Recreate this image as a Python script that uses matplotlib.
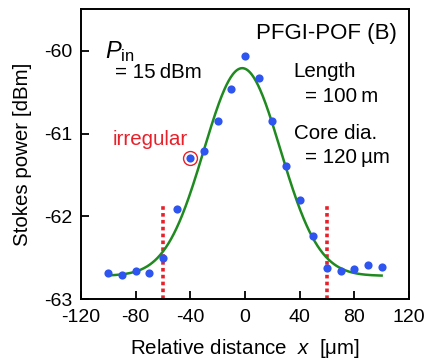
import numpy as np
import matplotlib
matplotlib.use("Agg")
import matplotlib.pyplot as plt

plt.rcParams['font.family'] = ['Liberation Sans', 'DejaVu Sans']
plt.rcParams['mathtext.fontset'] = 'custom'
plt.rcParams['mathtext.it'] = 'Liberation Sans:italic'
plt.rcParams['mathtext.rm'] = 'Liberation Sans'

# measured Stokes power vs relative distance
dist_um = [-100, -90, -80, -70, -60, -50, -40, -30, -20, -10, 0,
           10, 20, 30, 40, 50, 60, 70, 80, 90, 100]
stokes_dbm = [-62.69, -62.71, -62.66, -62.68, -62.51, -61.91, -61.30, -61.21,
              -60.85, -60.46, -60.06, -60.33, -60.85, -61.39, -61.80, -62.24,
              -62.62, -62.66, -62.64, -62.59, -62.61]
irregular_x = -40
irregular_y = -61.30

# Gaussian fit parameters
fit_base = -62.72
fit_amp = 2.51
fit_center = -2.0
fit_sigma = 28.0

core_edges = [-60, 60]
edge_top = -61.84

fig = plt.figure(figsize=(4.26, 3.62), dpi=100)
ax = fig.add_axes([0.190, 0.174, 0.770, 0.800])

xf = np.linspace(-100, 100, 401)
yf = fit_base + fit_amp * np.exp(-(xf - fit_center) ** 2 / (2 * fit_sigma ** 2))
ax.plot(xf, yf, color='#1f8a1f', lw=1.8, zorder=2)

for xe in core_edges:
    ax.plot([xe, xe], [-63, edge_top], color='#e8202a', lw=2.6,
            ls=(0, (1, 0.9)), zorder=1)

ax.plot(dist_um, stokes_dbm, 'o', color='#2f55f0', ms=5.9, mec='none', zorder=3)
ax.plot([irregular_x], [irregular_y], 'o', mfc='none', mec='#e8202a',
        ms=10, mew=1.0, zorder=4)

ax.set_xlim(-120, 120)
ax.set_ylim(-63, -59.5)
ax.set_xticks([-120, -80, -40, 0, 40, 80, 120])
ax.set_yticks([-63, -62, -61, -60])
ax.set_xticklabels(['-120', '-80', '-40', '0', '40', '80', '120'])
ax.set_yticklabels(['-63', '-62', '-61', '-60'])
ax.tick_params(direction='in', length=6, width=1.3, labelsize=14,
               top=False, right=False)
ax.tick_params(axis='x', pad=7)
ax.tick_params(axis='y', pad=6)
for s in ax.spines.values():
    s.set_linewidth(1.4)

ax.set_ylabel('Stokes power [dBm]', fontsize=14.8, labelpad=9)
ax.set_xlabel(r'Relative distance  $\mathit{x}$  [$\mathrm{\mu}$m]', fontsize=14.8, labelpad=8)

ax.text(0.963, 0.917, 'PFGI-POF (B)', transform=ax.transAxes, ha='right',
        va='center', fontsize=16)
ax.text(0.073, 0.855, r'$\mathit{P}_{\mathrm{in}}$', transform=ax.transAxes,
        ha='left', va='center', fontsize=17)
ax.text(0.104, 0.783, '= 15\u2009dBm', transform=ax.transAxes, ha='left',
        va='center', fontsize=14.8)
ax.text(0.649, 0.786, 'Length', transform=ax.transAxes, ha='left',
        va='center', fontsize=14.8)
ax.text(0.683, 0.70, '= 100\u2009m', transform=ax.transAxes, ha='left',
        va='center', fontsize=14.8)
ax.text(0.649, 0.572, 'Core dia.', transform=ax.transAxes, ha='left',
        va='center', fontsize=14.8)
ax.text(0.683, 0.49, '= 120\u2009\u00b5m', transform=ax.transAxes, ha='left',
        va='center', fontsize=14.8)
ax.text(-42, -61.07, 'irregular', color='#e8202a', ha='right',
        va='center', fontsize=14.8)

fig.savefig('out.png', dpi=100)
